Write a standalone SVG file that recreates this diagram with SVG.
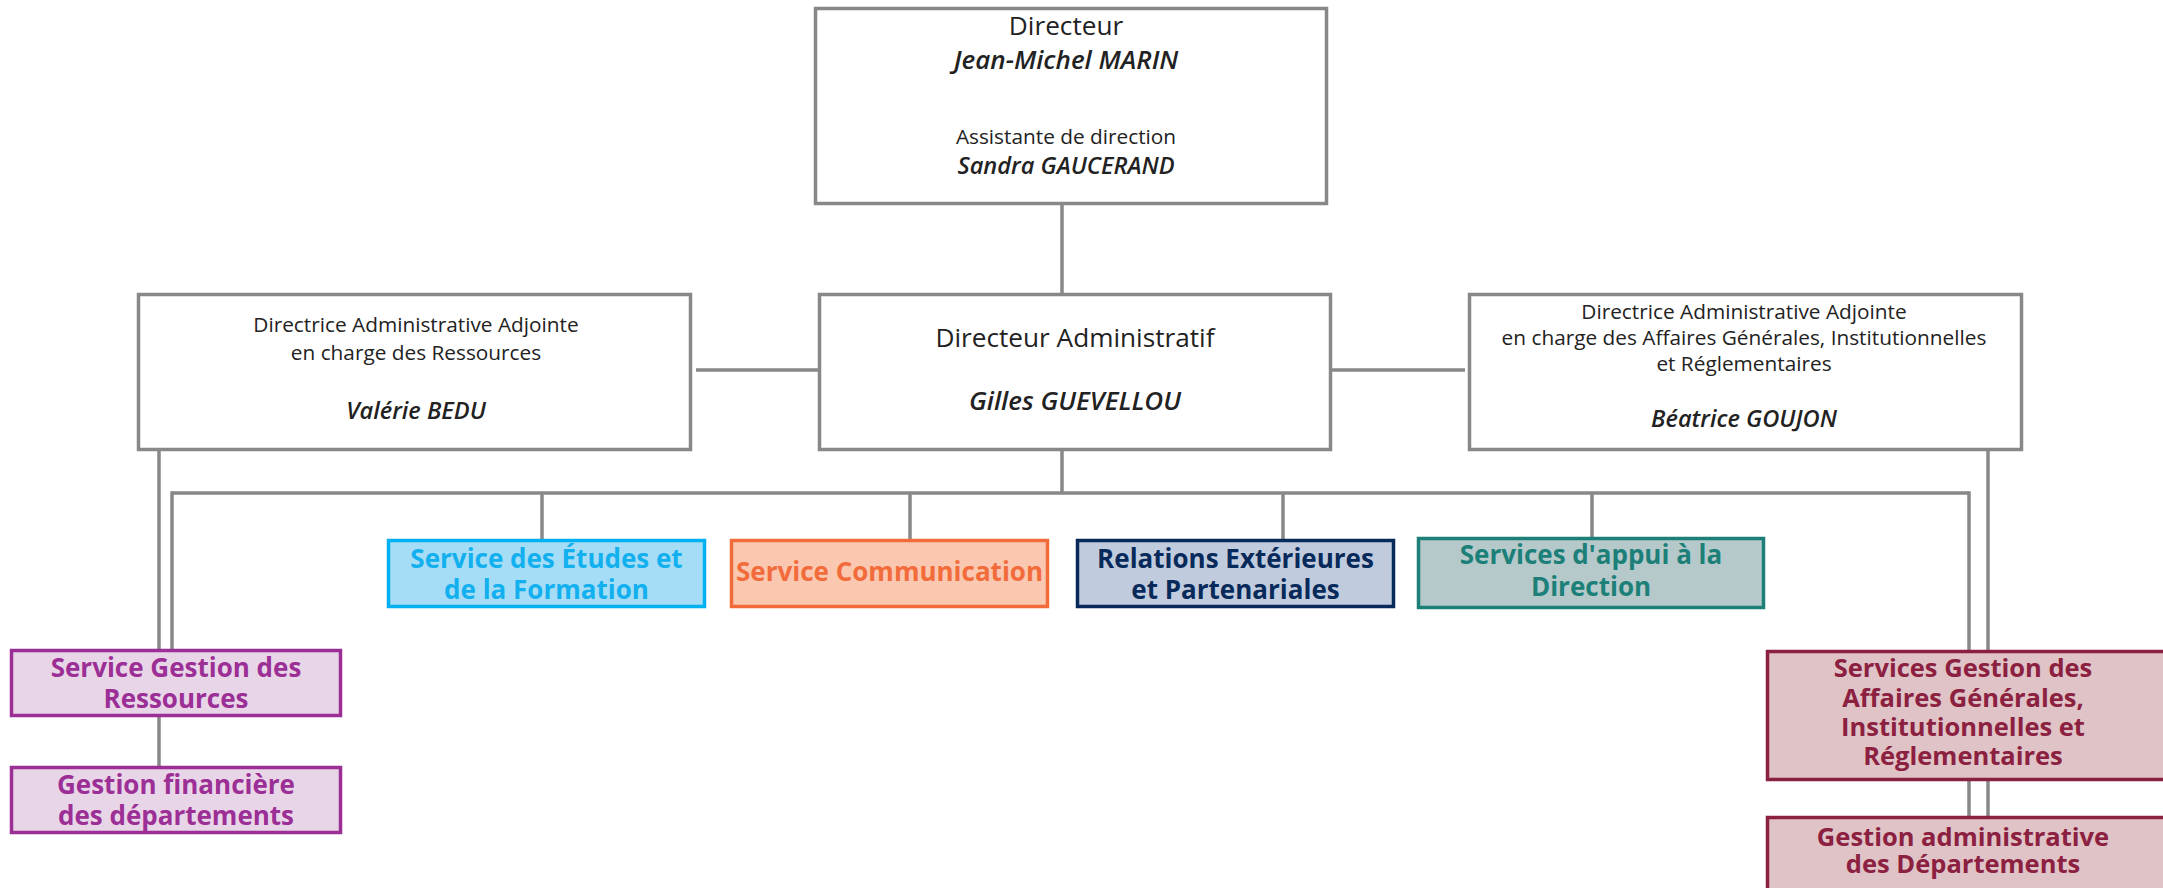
<svg xmlns="http://www.w3.org/2000/svg" width="2163" height="888" viewBox="0 0 2163 888">
<style>
text{font-family:"Open Sans","Noto Sans","Liberation Sans",sans-serif;text-anchor:middle}
.g{fill:#fff;stroke:#88888a;stroke-width:3.5}
.c line{stroke:#88888a;stroke-width:3.5}
.t{fill:#222;font-size:20.8px}
.tl{fill:#222;font-size:26.2px}
.n{fill:#222;font-size:23.6px;font-style:italic;font-weight:600}
.nl{fill:#222;font-size:26px;font-style:italic;font-weight:600}
.s{font-size:26px;font-weight:700}
.bor .s{font-size:25.5px}
.etu rect{fill:#a6ddf6;stroke:#00b0f0;stroke-width:3.5}.etu text{fill:#12b0ee}
.com rect{fill:#fac8b0;stroke:#f26b3a;stroke-width:3.5}.com text{fill:#f26b3a}
.rel rect{fill:#c0ccdd;stroke:#082a5a;stroke-width:3.5}.rel text{fill:#082a5a}
.app rect{fill:#b5c9cb;stroke:#1c8078;stroke-width:3.5}.app text{fill:#1c8078}
.pur rect{fill:#e8d6e8;stroke:#9c2f96;stroke-width:3.5}.pur text{fill:#9c2f96}
.bor rect{fill:#dfc3c6;stroke:#8c2040;stroke-width:3.5}.bor text{fill:#8c2040}
</style>
<rect width="2163" height="888" fill="#fff"/>
<g id="connectors" class="c">
<line x1="1062" y1="204" x2="1062" y2="294"/>
<line x1="1062" y1="450" x2="1062" y2="493"/>
<line x1="696" y1="370" x2="819" y2="370"/>
<line x1="1331" y1="370" x2="1465" y2="370"/>
<line x1="172" y1="493" x2="1969" y2="493"/>
<line x1="172" y1="491.25" x2="172" y2="650"/>
<line x1="1969" y1="491.25" x2="1969" y2="651"/>
<line x1="1969" y1="780" x2="1969" y2="817"/>
<line x1="542" y1="493" x2="542" y2="540"/>
<line x1="910" y1="493" x2="910" y2="540"/>
<line x1="1283" y1="493" x2="1283" y2="540"/>
<line x1="1592" y1="493" x2="1592" y2="538"/>
<line x1="159" y1="450" x2="159" y2="650"/>
<line x1="159" y1="716" x2="159" y2="767"/>
<line x1="1988" y1="450" x2="1988" y2="651"/>
<line x1="1988" y1="780" x2="1988" y2="817"/>
</g>
<g id="directeur">
<rect class="g" x="815.5" y="8.5" width="511" height="195"/>
<text class="tl" x="1066" y="35">Directeur</text>
<text class="nl" x="1066" y="69">Jean-Michel MARIN</text>
<text class="t" x="1066" y="144">Assistante de direction</text>
<text class="n" x="1066" y="174">Sandra GAUCERAND</text>
</g>
<g id="dir-admin">
<rect class="g" x="819.5" y="294.5" width="511" height="155"/>
<text class="tl" x="1075" y="347">Directeur Administratif</text>
<text class="nl" x="1075" y="410">Gilles GUEVELLOU</text>
</g>
<g id="daa-ressources">
<rect class="g" x="138.5" y="294.5" width="552" height="155"/>
<text class="t" x="416" y="332">Directrice Administrative Adjointe</text>
<text class="t" x="416" y="360">en charge des Ressources</text>
<text class="n" x="416" y="419">Valérie BEDU</text>
</g>
<g id="daa-affaires">
<rect class="g" x="1469.5" y="294.5" width="552" height="155"/>
<text class="t" x="1744" y="319">Directrice Administrative Adjointe</text>
<text class="t" x="1744" y="345">en charge des Affaires Générales, Institutionnelles</text>
<text class="t" x="1744" y="371">et Réglementaires</text>
<text class="n" x="1744" y="427">Béatrice GOUJON</text>
</g>
<g id="etudes" class="etu">
<rect x="388.5" y="540.5" width="316" height="66"/>
<text class="s" x="546.5" y="568">Service des Études et</text>
<text class="s" x="546.5" y="599">de la Formation</text>
</g>
<g id="communication" class="com">
<rect x="731.5" y="540.5" width="316" height="66"/>
<text class="s" x="889.5" y="581">Service Communication</text>
</g>
<g id="relations" class="rel">
<rect x="1077.5" y="540.5" width="316" height="66"/>
<text class="s" x="1235.5" y="568">Relations Extérieures</text>
<text class="s" x="1235.5" y="599">et Partenariales</text>
</g>
<g id="appui" class="app">
<rect x="1418.5" y="538.5" width="345" height="69"/>
<text class="s" x="1591" y="564">Services d'appui à la</text>
<text class="s" x="1591" y="596">Direction</text>
</g>
<g id="sgr" class="pur">
<rect x="11.5" y="650.5" width="329" height="65"/>
<text class="s" x="176" y="677">Service Gestion des</text>
<text class="s" x="176" y="708">Ressources</text>
</g>
<g id="gfd" class="pur">
<rect x="11.5" y="767.5" width="329" height="65"/>
<text class="s" x="176" y="794">Gestion financière</text>
<text class="s" x="176" y="825">des départements</text>
</g>
<g id="sgag" class="bor">
<rect x="1767.5" y="651.5" width="400" height="128"/>
<text class="s" x="1963" y="677">Services Gestion des</text>
<text class="s" x="1963" y="707">Affaires Générales,</text>
<text class="s" x="1963" y="736">Institutionnelles et</text>
<text class="s" x="1963" y="765">Réglementaires</text>
</g>
<g id="gad" class="bor">
<rect x="1767.5" y="817.5" width="400" height="80"/>
<text class="s" x="1963" y="846">Gestion administrative</text>
<text class="s" x="1963" y="873">des Départements</text>
</g>
</svg>
